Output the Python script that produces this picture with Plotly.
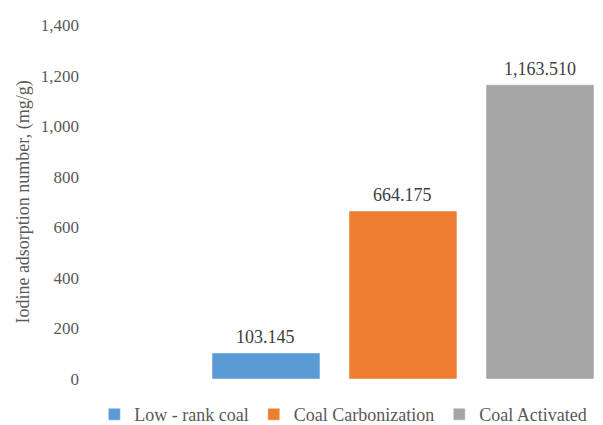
import plotly.graph_objects as go

series_names = ["Low - rank coal", "Coal Carbonization", "Coal Activated"]
values = [103.145, 664.175, 1163.510]
colors = ["#5B9BD5", "#ED7D31", "#A5A5A5"]
y_ticks = [0, 200, 400, 600, 800, 1000, 1200, 1400]

fig = go.Figure()
for name, v, c in zip(series_names, values, colors):
    fig.add_trace(go.Bar(
        x=[name], y=[v], name=name,
        marker=dict(color=c, line=dict(color="rgba(255,255,255,0.6)", width=0.8)),
        hoverinfo="skip",
    ))
    fig.add_annotation(
        x=name, y=v, text=f"{v:,.3f}", showarrow=False,
        xanchor="center", yanchor="bottom", yshift=4,
        font=dict(family="Liberation Serif", size=18, color="#404040"),
    )

fig.update_layout(
    width=603, height=433,
    margin=dict(l=85, r=0, t=24.5, b=45.8),
    paper_bgcolor="white", plot_bgcolor="white",
    barmode="overlay", bargap=0.212,
    font=dict(family="Liberation Serif", color="#595959"),
    showlegend=True,
    legend=dict(orientation="h", x=0.018, xanchor="left", y=-0.101, yanchor="middle",
                font=dict(size=18, color="#595959"), itemwidth=30, traceorder="normal"),
    xaxis=dict(type="category", range=[-1.321, 2.46], showticklabels=False,
               showgrid=False, zeroline=False, showline=False, ticks=""),
    yaxis=dict(range=[0, 1400], tickvals=y_ticks, tickformat=",d",
               showgrid=False, zeroline=False, showline=False, ticks="",
               tickfont=dict(size=17, color="#595959"), ticklabelstandoff=5,
               title=dict(text="Iodine adsorption number, (mg/g)",
                          font=dict(size=18, color="#595959"), standoff=6)),
)

fig.write_html("out.html", config={"displayModeBar": False},
               post_script="document.body.style.margin='0';document.body.style.overflow='hidden';")
